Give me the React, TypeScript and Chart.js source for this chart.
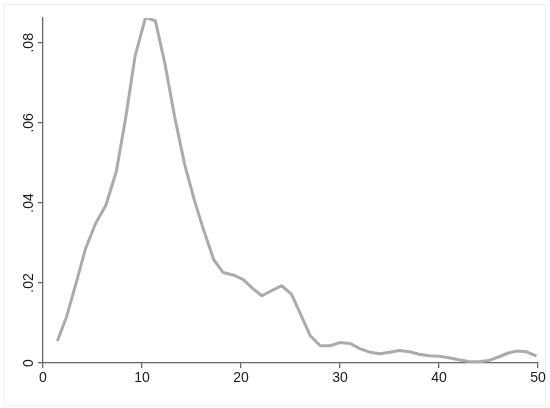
import React, { useEffect, useRef } from "react";
import { Chart, registerables } from "chart.js";

Chart.register(...registerables);

const xValues = [
  1.45, 2.4, 3.35, 4.3, 5.3, 6.35, 7.4, 8.35, 9.3, 10.35,
  11.35, 12.3, 13.3, 14.3, 15.25, 16.2, 17.25, 18.2, 19.2, 20.2,
  21.2, 22.1, 23.2, 24.1, 25.1, 26.0, 27.0, 28.0, 29.0, 30.0,
  31.0, 32.0, 33.0, 34.0, 35.0, 36.0, 37.0, 38.0, 39.0, 40.0,
  41.0, 42.0, 43.0, 44.0, 45.0, 46.0, 47.0, 47.85, 48.85, 49.85,
];
const densityValues = [
  0.0055, 0.0117, 0.02, 0.0286, 0.0348, 0.0394, 0.0478, 0.0612, 0.0767, 0.0863,
  0.0855, 0.075, 0.0615, 0.0497, 0.041, 0.0334, 0.0258, 0.0226, 0.022, 0.0209,
  0.0186, 0.0168, 0.0182, 0.0193, 0.0172, 0.0123, 0.0068, 0.0043, 0.0043, 0.0051,
  0.0049, 0.0036, 0.0027, 0.0023, 0.0027, 0.0031, 0.0028, 0.0022, 0.0018, 0.0017,
  0.0013, 0.0008, 0.0004, 0.0003, 0.0006, 0.0015, 0.0025, 0.003, 0.0028, 0.0017,
];
const xTicks = [0, 10, 20, 30, 40, 50];
const yTicks = [0, 0.02, 0.04, 0.06, 0.08];
const yTickLabels = ["0", ".02", ".04", ".06", ".08"];

const AXIS_COLOR = "#666666";
const TEXT_COLOR = "#1a1a1a";
const FONT = { family: "'Liberation Sans', Arial, sans-serif", size: 14 };

const framePlugin = {
  id: "frame",
  beforeDraw(chart: any) {
    const { ctx, width, height } = chart;
    ctx.save();
    ctx.fillStyle = "#ffffff";
    ctx.fillRect(0, 0, width, height);
    ctx.strokeStyle = "#efefef";
    ctx.lineWidth = 1;
    ctx.strokeRect(4.5, 4.5, width - 9, height - 7);
    ctx.restore();
  },
};

export default function App() {
  const ref = useRef<HTMLCanvasElement | null>(null);
  useEffect(() => {
    if (!ref.current) return;
    const chart = new Chart(ref.current, {
      type: "line",
      data: {
        datasets: [
          {
            data: xValues.map((x, i) => ({ x, y: densityValues[i] })),
            borderColor: "#ababab",
            borderWidth: 3,
            pointRadius: 0,
            tension: 0,
            borderJoinStyle: "round",
            fill: false,
          },
        ],
      },
      options: {
        responsive: false,
        animation: false,
        layout: { padding: { left: 0, right: 12, top: 18, bottom: 0 } },
        plugins: { legend: { display: false }, tooltip: { enabled: false } },
        scales: {
          x: {
            type: "linear",
            min: 0,
            max: 50,
            afterBuildTicks: (s: any) => {
              s.ticks = xTicks.map((v) => ({ value: v }));
            },
            afterFit: (s: any) => {
              s.height = 45;
            },
            grid: { drawOnChartArea: false, drawTicks: true, tickLength: 5, color: AXIS_COLOR, lineWidth: 1.3 },
            border: { display: true, color: AXIS_COLOR, width: 1.3 },
            ticks: { color: TEXT_COLOR, font: FONT, padding: 2, maxRotation: 0, minRotation: 0 },
          },
          y: {
            type: "linear",
            min: 0,
            max: 0.0862,
            afterBuildTicks: (s: any) => {
              s.ticks = yTicks.map((v) => ({ value: v }));
            },
            afterFit: (s: any) => {
              s.width = 43;
            },
            grid: { drawOnChartArea: false, drawTicks: true, tickLength: 5, color: AXIS_COLOR, lineWidth: 1.3 },
            border: { display: true, color: AXIS_COLOR, width: 1.3 },
            ticks: {
              color: TEXT_COLOR,
              font: FONT,
              padding: -1,
              minRotation: 90,
              maxRotation: 90,
              crossAlign: "center",
              callback: (v: any) => {
                const i = yTicks.indexOf(Number(v));
                return i >= 0 ? yTickLabels[i] : "";
              },
            },
          },
        },
      },
      plugins: [framePlugin],
    } as any);
    return () => chart.destroy();
  }, []);
  return (
    <div style={{ position: "absolute", left: 0, top: 0, width: 550, height: 408 }}>
      <canvas ref={ref} width={550} height={408} style={{ display: "block" }} />
    </div>
  );
}
